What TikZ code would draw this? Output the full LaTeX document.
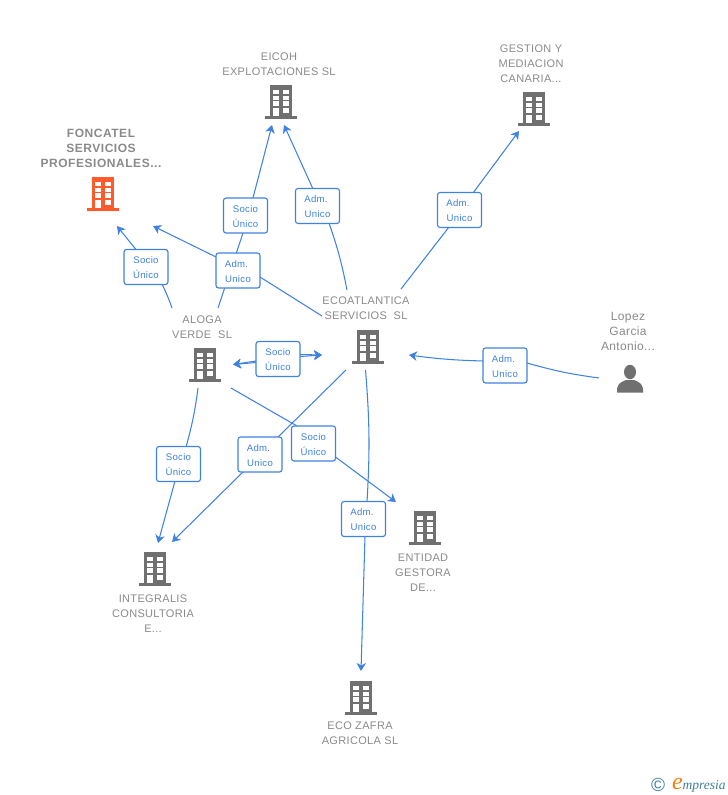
\documentclass[tikz,border=0pt]{standalone}
\usepackage{fontspec}
\setmainfont{Liberation Sans}
\newfontfamily\lblfont[LetterSpace=3]{Liberation Sans}
\newfontfamily\lblbfont[LetterSpace=4.5]{Liberation Sans}
\newfontfamily\logofont{Liberation Serif}
\usetikzlibrary{arrows.meta,backgrounds}
\definecolor{icongray}{HTML}{707070}
\definecolor{txtgray}{HTML}{8A8A8A}
\definecolor{linkblue}{HTML}{3F82E0}
\definecolor{iconred}{HTML}{FF5A2C}
\definecolor{logoteal}{HTML}{3F7F96}
\definecolor{logoorange}{HTML}{F08010}
\newcommand\relup{\rule{0pt}{9pt}}
\tikzset{
  x=1pt,y=-1pt,
  pics/bldg/.style={code={
    \fill[#1] (-11,-17) rectangle (11,14);
    \fill[#1] (-16,14) rectangle (16,17);
    \foreach \yy in {-12.2,-6.4,-0.6}{
      \fill[white] (-7.7,\yy) rectangle (-2.4,{\yy+4.2});
      \fill[white] (2.4,\yy) rectangle (7.7,{\yy+4.2});
    }
    \fill[white] (2.4,6.4) rectangle (7.7,10.8);
    \fill[white] (-7.7,6.4) rectangle (-2.4,14);
  }},
  etiq/.style={font=\lblfont\fontsize{11}{14.8}\selectfont,text=txtgray,align=center,inner sep=0pt},
  etiqp/.style={font=\lblfont\fontsize{12}{15}\selectfont,text=txtgray,align=center,inner sep=0pt},
  etiqb/.style={font=\lblbfont\bfseries\fontsize{12}{15}\selectfont,text=txtgray,align=center,inner sep=0pt},
  rel/.style={draw=linkblue,line width=1.1pt,rounded corners=2.5pt,fill=white,minimum width=44pt,minimum height=35pt,inner sep=0pt,
    text=linkblue,align=center,font=\lblfont\fontsize{9.6}{15}\selectfont},
  conn/.style={draw=linkblue,line width=1.05pt},
  arr/.style={conn,-{Stealth[length=8pt,width=9.5pt,inset=2.4pt]}},
}
\begin{document}
\begin{tikzpicture}
\useasboundingbox (0,0) rectangle (728,795);
% icons
\pic (eicoh) at (281,102) {bldg=icongray};
\pic (foncatel) at (103,194) {bldg=iconred};
\pic (gestion) at (534,109) {bldg=icongray};
\pic (ecoat) at (368,347) {bldg=icongray};
\pic (aloga) at (205,365) {bldg=icongray};
\pic (entidad) at (425,528) {bldg=icongray};
\pic (integralis) at (155,569) {bldg=icongray};
\pic (zafra) at (361,698) {bldg=icongray};
\fill[icongray] (630,372) ellipse (6 and 7.2);
\fill[icongray] (617,392.5) .. controls (616.5,384) and (620,382.5) .. (626,380) -- (634,380) .. controls (640,382.5) and (643.5,384) .. (643,392.5) -- cycle;
% names
\node[etiq] (teicoh) at (279,64) {EICOH\\EXPLOTACIONES SL};
\node[etiqb] (tfoncatel) at (101,148) {FONCATEL\\SERVICIOS\\PROFESIONALES...};
\node[etiq] (tgestion) at (531,63.5) {GESTION Y\\MEDIACION\\CANARIA...};
\node[etiq] (tecoat) at (366,308.5) {ECOATLANTICA\\SERVICIOS\ \ SL};
\node[etiq] (taloga) at (202,327) {ALOGA\\VERDE\ \ SL};
\node[etiqp] (tlopez) at (628,331) {Lopez\\Garcia\\Antonio...};
\node[etiq] (tentidad) at (423,572.5) {ENTIDAD\\GESTORA\\DE...};
\node[etiq] (tintegralis) at (153,613.5) {INTEGRALIS\\CONSULTORIA\\E...};
\node[etiq] (tzafra) at (360,733.5) {ECO ZAFRA\\AGRICOLA SL};
% relation labels
\node[rel] (r1) at (146,267) {\relup Socio\\Único};
\node[rel] (r2) at (245.5,215.5) {\relup Socio\\Único};
\node[rel] (r3) at (238,270.5) {\relup Adm.\kern3pt\\Unico};
\node[rel] (r4) at (317.5,206) {\relup Adm.\kern3pt\\Unico};
\node[rel] (r5) at (459.5,210) {\relup Adm.\kern3pt\\Unico};
\node[rel] (r6) at (505,365.5) {\relup Adm.\kern3pt\\Unico};
\node[rel] (r7) at (278,359) {\relup Socio\\Único};
\node[rel] (r8) at (178.5,464) {\relup Socio\\Único};
\node[rel] (r9) at (260,454.5) {\relup Adm.\kern3pt\\Unico};
\node[rel] (r10) at (313.5,443.5) {\relup Socio\\Único};
\node[rel] (r11) at (363.5,519) {\relup Adm.\kern3pt\\Unico};
% connector ends
\coordinate (a1) at (172,308);
\coordinate (f1) at (117,226);
\coordinate (a2) at (218,308);
\coordinate (e2) at (272,125);
\coordinate (c3) at (322,316);
\coordinate (f3) at (153,226);
\coordinate (c4) at (347,290);
\coordinate (e4) at (284,125);
\coordinate (c5) at (401,289);
\coordinate (g5) at (519,131);
\coordinate (l6) at (599,378);
\coordinate (c6) at (409,355);
\coordinate (a7) at (233,364.5);
\coordinate (c7) at (322,355);
\coordinate (a8) at (198,388);
\coordinate (i8) at (158,543);
\coordinate (c9) at (346,370);
\coordinate (i9) at (172,542);
\coordinate (a10) at (231,388);
\coordinate (n10) at (396,502);
\coordinate (c11) at (365.5,370);
\coordinate (z11) at (361,671);
\begin{scope}[on background layer]
  \draw[conn] (a1) to[bend right=3] ([shift={(16,17)}]r1.center);
  \draw[arr] ([shift={(-10.5,-18)}]r1.center) -- (f1);
  \draw[conn] (a2) -- ([shift={(-2.5,17.5)}]r2.center);
  \draw[arr] ([shift={(7.5,-17.5)}]r2.center) -- (e2);
  \draw[conn] (c3) -- ([shift={(22,6.5)}]r3.center);
  \draw[arr] ([shift={(-22,-13.5)}]r3.center) -- (f3);
  \draw[conn] (c4) to[bend right=4] ([shift={(11.5,17)}]r4.center);
  \draw[arr] ([shift={(-4.5,-17)}]r4.center) -- (e4);
  \draw[conn] (c5) -- ([shift={(-10.5,17)}]r5.center);
  \draw[arr] ([shift={(13.5,-17)}]r5.center) -- (g5);
  \draw[conn] (l6) to[bend left=4] ([shift={(22,-2.5)}]r6.center);
  \draw[arr] ([shift={(-22,-4.5)}]r6.center) to[bend left=3] (c6);
  \draw[arr] ([shift={(-22,2)}]r7.center) -- (a7);
  \draw[arr] ([shift={(-22,3.5)}]r7.center) -- (a7);
  \draw[arr] ([shift={(22,-4.5)}]r7.center) -- (c7);
  \draw[arr] ([shift={(22,-2.5)}]r7.center) -- (c7);
  \draw[conn] (a8) to[bend left=4] ([shift={(7.5,-17)}]r8.center);
  \draw[arr] ([shift={(-3.5,17)}]r8.center) -- (i8);
  \draw[conn] (c9) -- ([shift={(18,-17.5)}]r9.center);
  \draw[arr] ([shift={(-17,17.5)}]r9.center) -- (i9);
  \draw[conn] (a10) -- ([shift={(-16.5,-17.5)}]r10.center);
  \draw[arr] ([shift={(22,13.5)}]r10.center) -- (n10);
  \draw[conn] (c11) to[bend left=4] ([shift={(3.5,-17)}]r11.center);
  \draw[arr] ([shift={(1.5,17)}]r11.center) -- (z11);
\end{scope}
% logo
\node[text=logoteal,font=\fontsize{19}{19}\selectfont,inner sep=0pt] (logoc) at (658,784.5) {©};
\node[anchor=base west,text=logoorange,font=\logofont\itshape\fontsize{24}{24}\selectfont,inner sep=0pt] (logoe) at (672,789) {e};
\node[anchor=base west,text=logoteal,font=\logofont\itshape\fontsize{13.5}{14}\selectfont,inner sep=0pt] (logot) at (682.5,789) {mpresia};
\end{tikzpicture}
\end{document}
